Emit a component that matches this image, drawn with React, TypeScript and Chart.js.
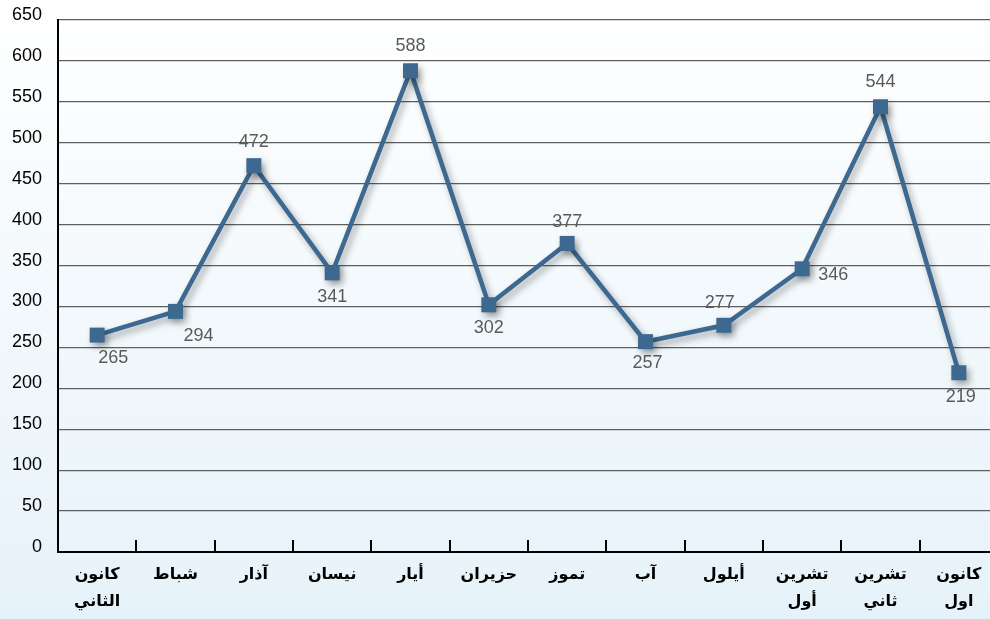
import React, { useEffect, useRef } from "react";
import { Chart, registerables } from "chart.js";

Chart.register(...registerables);

const categories: (string | string[])[] = [
  ["كانون", "الثاني"],
  "شباط",
  "آذار",
  "نيسان",
  "أيار",
  "حزيران",
  "تموز",
  "آب",
  "أيلول",
  ["تشرين", "أول"],
  ["تشرين", "ثاني"],
  ["كانون", "اول"],
];

const values = [265, 294, 472, 341, 588, 302, 377, 257, 277, 346, 544, 219];

// label offsets relative to the point (pixels)
const labelDx = [16, 23, 0, 0, 0, 0, 0, 2, -4, 31, 0, 2];
const labelDy = [23, 25, -24, 24, -25, 23, -21, 21, -22, 6, -25, 24];

const yMin = 0;
const yMax = 650;
const yStep = 50;

const LINE_COLOR = "#3d6890";

const bgPlugin = {
  id: "bgGradient",
  beforeDraw(chart: any) {
    const { ctx, width, height } = chart;
    const g = ctx.createLinearGradient(0, 0, 0, height);
    g.addColorStop(0, "#ffffff");
    g.addColorStop(1, "#e6f2f9");
    ctx.save();
    ctx.fillStyle = g;
    ctx.fillRect(0, 0, width, height);
    ctx.restore();
  },
};

const shadowPlugin = {
  id: "lineShadow",
  beforeDatasetsDraw(chart: any) {
    const ctx = chart.ctx;
    ctx.save();
    ctx.shadowColor = "rgba(0,0,0,0.35)";
    ctx.shadowBlur = 7;
    ctx.shadowOffsetX = 3;
    ctx.shadowOffsetY = 4;
  },
  afterDatasetsDraw(chart: any) {
    chart.ctx.restore();
  },
};

const extrasPlugin = {
  id: "extras",
  afterDraw(chart: any) {
    const { ctx, scales } = chart;
    const x = scales.x;
    const y = scales.y;
    // inward tick marks at category boundaries
    ctx.save();
    ctx.strokeStyle = "#000";
    ctx.lineWidth = 2;
    const n = categories.length;
    for (let i = 0; i < n - 1; i++) {
      const px = Math.round((x.getPixelForValue(i) + x.getPixelForValue(i + 1)) / 2);
      ctx.beginPath();
      ctx.moveTo(px, y.bottom);
      ctx.lineTo(px, y.bottom - 12);
      ctx.stroke();
    }
    ctx.restore();

    // data labels
    const meta = chart.getDatasetMeta(0);
    ctx.save();
    ctx.font = "18px 'Liberation Sans', Arial, sans-serif";
    ctx.fillStyle = "#5a5a5a";
    ctx.textAlign = "center";
    ctx.textBaseline = "middle";
    meta.data.forEach((pt: any, i: number) => {
      ctx.fillText(String(values[i]), pt.x + labelDx[i], pt.y + labelDy[i]);
    });
    ctx.restore();
  },
};

export default function App() {
  const ref = useRef<HTMLCanvasElement | null>(null);

  useEffect(() => {
    if (!ref.current) return;
    const chart = new Chart(ref.current, {
      type: "line",
      data: {
        labels: categories as any,
        datasets: [
          {
            data: values,
            borderColor: LINE_COLOR,
            backgroundColor: LINE_COLOR,
            borderWidth: 4.5,
            pointStyle: "rect",
            pointRadius: 10.6,
            pointBorderWidth: 0,
            pointBackgroundColor: LINE_COLOR,
            tension: 0,
            fill: false,
            clip: false as any,
          },
        ],
      },
      options: {
        responsive: false,
        animation: false,
        devicePixelRatio: 1,
        layout: { autoPadding: false, padding: { top: 20, right: 0, left: 0, bottom: 0 } },
        plugins: {
          legend: { display: false },
          tooltip: { enabled: false },
          title: { display: false },
        },
        scales: {
          x: {
            type: "category",
            offset: true,
            grid: { display: false, drawTicks: false },
            border: { display: true, color: "#000", width: 2 },
            ticks: {
              color: "#000",
              padding: 9,
              maxRotation: 0,
              autoSkip: false,
              font: { family: "'DejaVu Sans', sans-serif", size: 16, weight: "bold", lineHeight: 1.7 },
            },
            afterFit(scale: any) {
              scale.height = 67;
              scale.paddingLeft = 0;
              scale.paddingRight = 0;
            },
          },
          y: {
            min: yMin,
            max: yMax,
            grid: { color: "#5f5f5f", lineWidth: 1.2, drawTicks: false },
            border: { display: true, color: "#000", width: 2 },
            ticks: {
              stepSize: yStep,
              color: "#000",
              padding: 16,
              labelOffset: -5,
              font: { family: "'Liberation Sans', Arial, sans-serif", size: 18 },
            },
            afterFit(scale: any) {
              scale.width = 58;
              scale.paddingTop = 0;
              scale.paddingBottom = 0;
            },
          },
        },
      },
      plugins: [bgPlugin, shadowPlugin, extrasPlugin],
    });
    return () => chart.destroy();
  }, []);

  return (
    <div style={{ position: "fixed", left: 0, top: 0, width: 990, height: 619, overflow: "hidden" }}>
      <canvas ref={ref} width={998} height={619} style={{ display: "block" }} />
    </div>
  );
}
